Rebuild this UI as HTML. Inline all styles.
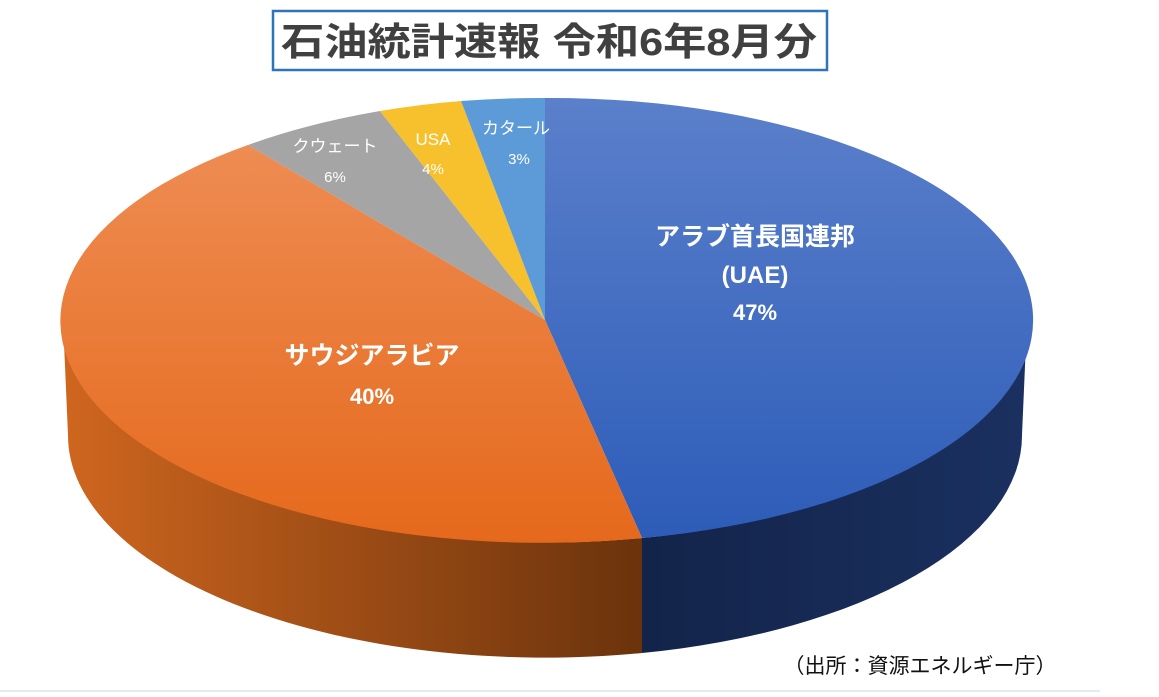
<!DOCTYPE html>
<html><head><meta charset="utf-8"><style>
body{margin:0;width:1159px;height:697px;background:#fff;overflow:hidden;font-family:"Liberation Sans","Noto Sans CJK JP",sans-serif}
</style></head><body>
<svg width="1159" height="697" viewBox="0 0 1159 697" xmlns="http://www.w3.org/2000/svg" style="position:absolute;left:0;top:0">
<defs>
<linearGradient id="bt" x1="0" y1="0" x2="0" y2="1"><stop offset="0" stop-color="#5b80cb"/><stop offset="1" stop-color="#2d5cb8"/></linearGradient>
<linearGradient id="ot" x1="0" y1="0" x2="0" y2="1"><stop offset="0" stop-color="#ee8c52"/><stop offset="1" stop-color="#e5691c"/></linearGradient>
<linearGradient id="os" x1="0" y1="0" x2="1" y2="0"><stop offset="0" stop-color="#cf661f"/><stop offset="1" stop-color="#6b330c"/></linearGradient>
<linearGradient id="bs" x1="0" y1="0" x2="1" y2="0"><stop offset="0" stop-color="#13244a"/><stop offset="1" stop-color="#1a3060"/></linearGradient>
</defs>
<rect x="273" y="11" width="554" height="59" fill="#fff" stroke="#2e75b6" stroke-width="2.5"/>
<text x="549" y="55" text-anchor="middle" font-size="38" font-weight="bold" fill="#404040" textLength="536" lengthAdjust="spacingAndGlyphs">石油統計速報  令和6年8月分</text>
<path d="M1027,320 A482,222 0 0 1 642,538 L642,653 A477,222 0 0 0 1022,435 Z" fill="url(#bs)"/>
<path d="M642,538 A482,222 0 0 1 63,320 L68,435 A477,222 0 0 0 642,653 Z" fill="url(#os)"/>
<path d="M545,320 L545,98 A482,222 0 0 1 642,538 Z" fill="url(#bt)"/>
<path d="M545,320 L642,538 A482,222 0 0 1 248,145 Z" fill="url(#ot)"/>
<path d="M545,320 L248,145 A482,222 0 0 1 380,111 Z" fill="#a5a5a5"/>
<path d="M545,320 L380,111 A482,222 0 0 1 461,101 Z" fill="#f7c12e"/>
<path d="M545,320 L461,101 A482,222 0 0 1 545,98 Z" fill="#5d9bd8"/>
<g fill="#fff" text-anchor="middle">
<text x="755" y="245" font-size="25" font-weight="bold">アラブ首長国連邦</text>
<text x="755" y="283" font-size="24" font-weight="bold">(UAE)</text>
<text x="755" y="320" font-size="22" font-weight="bold">47%</text>
<text x="372" y="364" font-size="25" font-weight="bold">サウジアラビア</text>
<text x="372" y="404" font-size="22" font-weight="bold">40%</text>
<text x="335" y="152" font-size="17">クウェート</text>
<text x="335" y="182" font-size="15">6%</text>
<text x="433" y="145" font-size="17">USA</text>
<text x="433" y="174" font-size="15">4%</text>
<text x="516" y="134" font-size="17">カタール</text>
<text x="519" y="164" font-size="15">3%</text>
</g>
<text x="920" y="673" text-anchor="middle" font-size="21" fill="#111">（出所：資源エネルギー庁）</text>
<rect x="0" y="690" width="1100" height="2" fill="#e6eaee"/>
</svg>
</body></html>
